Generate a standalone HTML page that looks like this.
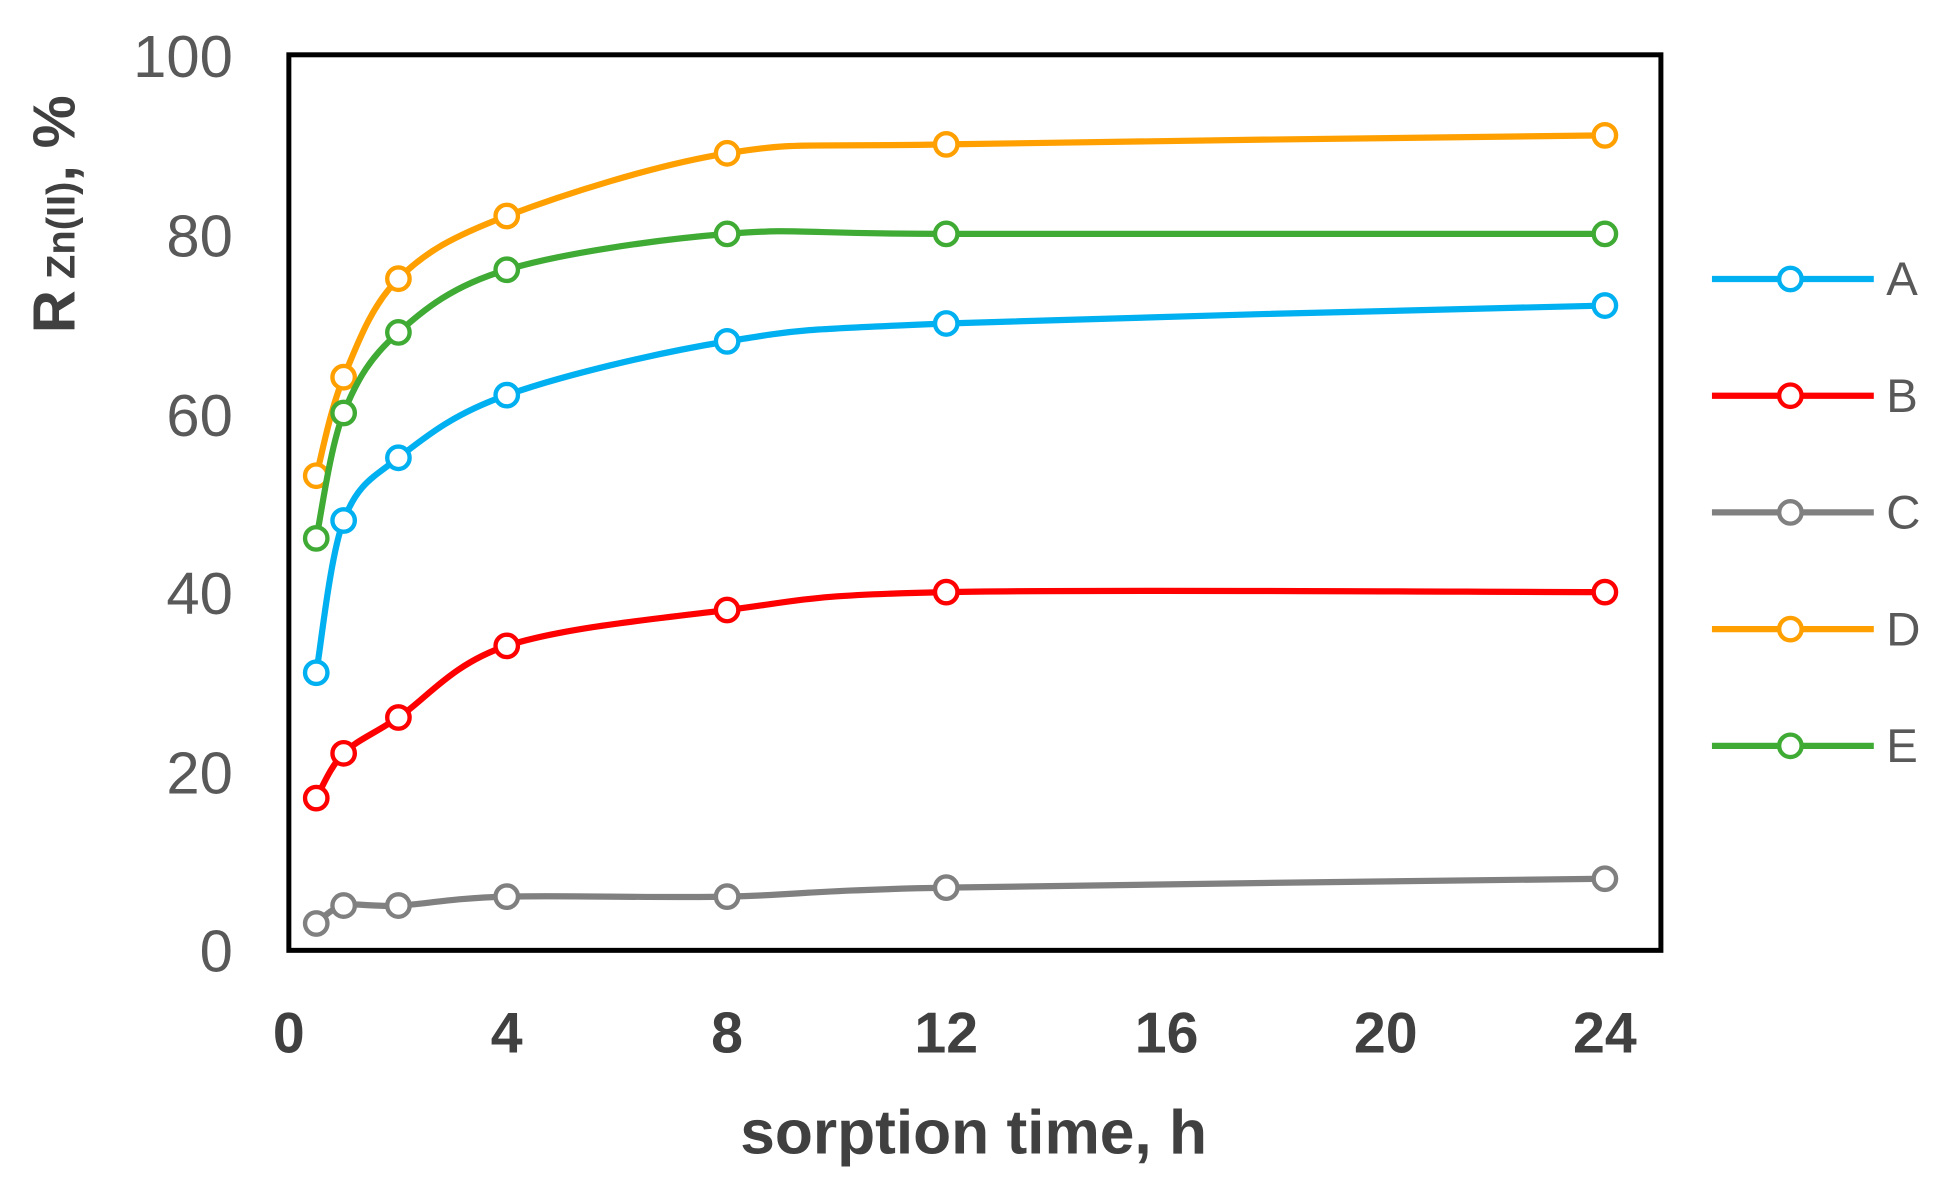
<!DOCTYPE html>
<html><head><meta charset="utf-8"><style>html,body{margin:0;padding:0;background:#fff}svg{display:block}</style></head>
<body>
<svg id="s" width="1951" height="1187" viewBox="0 0 1567 953" preserveAspectRatio="none" xmlns="http://www.w3.org/2000/svg" font-family="Liberation Sans, Arial, sans-serif">
<rect x="0" y="0" width="1567" height="953" fill="#fff"/>
<rect x="232" y="44" width="1102" height="719" fill="none" stroke="#000" stroke-width="4"/>
<g font-size="48" fill="#595959" text-anchor="end">
<text x="187" y="62">100</text><text x="187" y="206">80</text><text x="187" y="350">60</text>
<text x="187" y="493">40</text><text x="187" y="637">20</text><text x="187" y="780">0</text>
</g>
<g font-size="46" font-weight="bold" fill="#404040" text-anchor="middle">
<text x="232" y="845">0</text><text x="407" y="845">4</text><text x="584" y="845">8</text>
<text x="760" y="845">12</text><text x="937" y="845">16</text><text x="1113" y="845">20</text><text x="1289" y="845">24</text>
</g>
<text x="782" y="926" font-size="50" font-weight="bold" fill="#404040" text-anchor="middle">sorption time, h</text>
<text transform="translate(60,172) rotate(-90)" font-size="48" font-weight="bold" fill="#404040" text-anchor="middle">R<tspan font-size="32"> Zn(II)</tspan>, %</text>
<g id="series"></g>
<g id="legend" font-size="38" fill="#595959"></g>
</svg>
<script>
var xs=[254,276,320,407,584,760,1289];
var data=[["A","#00b0f0",[31,48,55,62,68,70,72]],["B","#ff0000",[17,22,26,34,38,40,40]],["C","#808080",[3,5,5,6,6,7,8]],["D","#ffa000",[53,64,75,82,89,90,91]],["E","#3fab35",[46,60,69,76,80,80,80]]];
var NS="http://www.w3.org/2000/svg",g=document.getElementById("series"),lg=document.getElementById("legend");
function el(t,a,p){var e=document.createElementNS(NS,t);for(var k in a)e.setAttribute(k,a[k]);p.appendChild(e);return e;}
data.forEach(function(s,si){
 var p=xs.map(function(x,i){return [x,763-s[2][i]*7.19];});
 var d="M"+p[0][0]+","+p[0][1];
 for(var i=0;i<p.length-1;i++){var p0=p[i-1]||p[i],p1=p[i],p2=p[i+1],p3=p[i+2]||p2,t=0.5/3;
  d+=" C"+(p1[0]+(p2[0]-p0[0])*t)+","+(p1[1]+(p2[1]-p0[1])*t)+" "+(p2[0]-(p3[0]-p1[0])*t)+","+(p2[1]-(p3[1]-p1[1])*t)+" "+p2[0]+","+p2[1];}
 el("path",{d:d,fill:"none",stroke:s[1],"stroke-width":5},g);
 p.forEach(function(q){el("circle",{cx:q[0],cy:q[1],r:9,fill:"#fff",stroke:s[1],"stroke-width":3.5},g);});
 var y=224+si*93.7;
 el("line",{x1:1375,x2:1505,y1:y,y2:y,stroke:s[1],"stroke-width":5},lg);
 el("circle",{cx:1438,cy:y,r:9,fill:"#fff",stroke:s[1],"stroke-width":3.5},lg);
 var t=el("text",{x:1515,y:y+13},lg);t.textContent=s[0];
});
</script>
</body></html>
